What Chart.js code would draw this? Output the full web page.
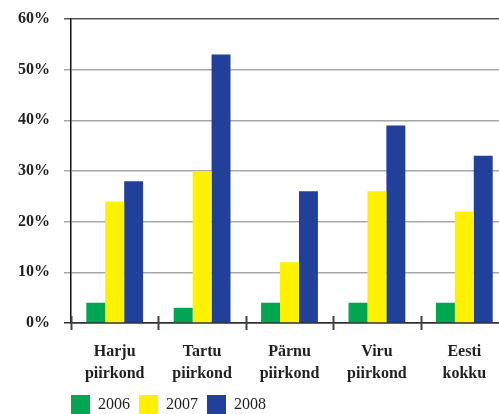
<!DOCTYPE html>
<html>
<head>
<meta charset="utf-8">
<script src="https://cdn.jsdelivr.net/npm/chart.js@4"></script>
<style>
    html, body { margin: 0; padding: 0; background: #fff; overflow: hidden; }
    #wrap { width: 512px; height: 420px; position: relative; }
</style>
</head>
<body>
<div id="wrap"><canvas id="chart"></canvas></div>
<script>
// chart data
const regions = [
    ['Harju', 'piirkond'],
    ['Tartu', 'piirkond'],
    ['Pärnu', 'piirkond'],
    ['Viru', 'piirkond'],
    ['Eesti', 'kokku']
];
const years = ['2006', '2007', '2008'];
const values2006 = [4, 3, 4, 4, 4];
const values2007 = [24, 30, 12, 26, 22];
const values2008 = [28, 53, 26, 39, 33];
const yTicks = [0, 10, 20, 30, 40, 50, 60];

const colors = ['#00a651', '#fff200', '#21409a'];
const textColor = '#231f20';
const serif = '"Liberation Serif", "DejaVu Serif", serif';

/**
 * Draws the small tick marks crossing the x axis between categories
 */
const crossTicks = {
    id: 'crossTicks',
    afterDraw(chart) {
        const { ctx, chartArea, scales } = chart;
        const x = scales.x;
        const y0 = chartArea.bottom;
        const n = x.ticks.length;
        const step = (chartArea.right - chartArea.left) / n;
        ctx.save();
        ctx.strokeStyle = '#444';
        ctx.lineWidth = 2;
        for (let i = 0; i <= n; i++) {
            const px = Math.round(chartArea.left + i * step) + 0.5;
            ctx.beginPath();
            ctx.moveTo(px, y0 - 7);
            ctx.lineTo(px, y0 + 7);
            ctx.stroke();
        }
        ctx.restore();
    }
};

/**
 * Places the legend flush with the y axis, near the bottom edge
 */
const legendShift = {
    id: 'legendShift',
    afterLayout(chart) {
        const lg = chart.legend;
        if (!lg) return;
        lg.left -= 9;
        lg.right -= 9;
        lg.top = 386;
        lg.bottom = lg.top + lg.height;
    }
};

new Chart(document.getElementById('chart'), {
    type: 'bar',
    data: {
        labels: regions,
        datasets: [
            { label: years[0], data: values2006, backgroundColor: colors[0] },
            { label: years[1], data: values2007, backgroundColor: colors[1] },
            { label: years[2], data: values2008, backgroundColor: colors[2] }
        ]
    },
    options: {
        responsive: true,
        maintainAspectRatio: false,
        animation: false,
        layout: { padding: { top: 0, right: 4, left: 0, bottom: 0 } },
        datasets: {
            bar: { categoryPercentage: 0.65, barPercentage: 1.0, borderWidth: 0 }
        },
        scales: {
            x: {
                afterFit(scale) { scale.height = 67; },
                grid: { display: false, drawTicks: false, tickLength: 0 },
                border: { display: true, color: '#333', width: 1.5 },
                ticks: {
                    color: textColor,
                    padding: 18,
                    maxRotation: 0,
                    autoSkip: false,
                    font: { family: serif, size: 16, weight: 'bold', lineHeight: 1.35 }
                }
            },
            y: {
                min: 0,
                max: 60,
                afterFit(scale) {
                    scale.width = 71;
                    scale.paddingTop = 19;
                    scale.paddingBottom = 0;
                },
                afterBuildTicks(scale) { scale.ticks = yTicks.map(v => ({ value: v })); },
                grid: {
                    color: c => (c.tick && c.tick.value === 60) ? '#555' : (c.tick && c.tick.value === 0 ? '#333' : '#a8a8a8'),
                    lineWidth: 1.5,
                    tickLength: 7
                },
                border: { display: true, color: '#111', width: 1.5 },
                ticks: {
                    color: textColor,
                    padding: 14,
                    font: { family: serif, size: 16, weight: 'bold' },
                    callback: v => v + '%'
                }
            }
        },
        plugins: {
            legend: {
                position: 'bottom',
                align: 'start',
                fullSize: false,
                maxHeight: 30,
                labels: {
                    boxWidth: 19,
                    boxHeight: 19,
                    padding: 9,
                    color: textColor,
                    font: { family: serif, size: 16 }
                }
            },
            tooltip: { enabled: false }
        }
    },
    plugins: [crossTicks, legendShift]
});
</script>
</body>
</html>
